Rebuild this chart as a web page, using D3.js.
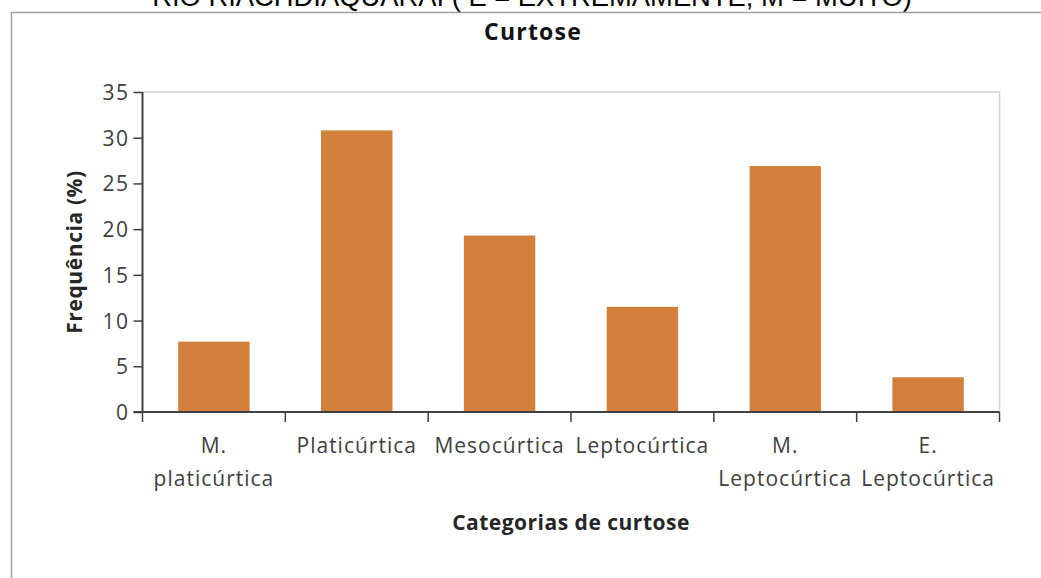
<!DOCTYPE html>
<html>
<head>
<meta charset="utf-8">
<script src="https://cdn.jsdelivr.net/npm/d3@7"></script>
<style>
  html, body { margin: 0; padding: 0; background: #fff; }
  svg { display: block; }
</style>
</head>
<body>
<svg id="chart" width="1041" height="578"></svg>
<script>
const categories = ["M. platicúrtica", "Platicúrtica", "Mesocúrtica", "Leptocúrtica", "M. Leptocúrtica", "E. Leptocúrtica"];
const categoryLines = [["M.", "platicúrtica"], ["Platicúrtica"], ["Mesocúrtica"], ["Leptocúrtica"], ["M.", "Leptocúrtica"], ["E.", "Leptocúrtica"]];
const frequencies = [7.7, 30.8, 19.3, 11.5, 26.9, 3.8];
const yTicks = [0, 5, 10, 15, 20, 25, 30, 35];
const chartTitle = "Curtose";
const xTitle = "Categorias de curtose";
const yTitle = "Frequência (%)";
const topCaption = "RIO RIACHDIAQUARAÍ ( E = EXTREMAMENTE; M = MUITO)";

const svg = d3.select("#chart");
const font = "'Open Sans', 'Noto Sans', sans-serif";
const margin = { left: 142.5, right: 999.5, top: 92, bottom: 412 };

// caption partly cut off at the top edge (as in the source image)
const cap = svg.append("text")
  .attr("x", 532).attr("y", 6)
  .attr("text-anchor", "middle")
  .style("font-family", "'Liberation Sans', Arial, sans-serif")
  .style("font-size", "22px")
  .attr("fill", "#000")
  .text(topCaption);
const capW = cap.node().getComputedTextLength();
cap.style("font-size", (22 * 760 / capW) + "px");

// outer frame
svg.append("rect")
  .attr("x", 11.5).attr("y", 12.5)
  .attr("width", 1100).attr("height", 700)
  .attr("fill", "none").attr("stroke", "#a0a0a0").attr("stroke-width", 1.5);

const x = d3.scaleBand().domain(categories).range([margin.left, margin.right]).paddingInner(0.5).paddingOuter(0.25);
const y = d3.scaleLinear().domain([0, 35]).range([margin.bottom, margin.top]);

// plot area light border (top & right)
svg.append("path")
  .attr("d", `M${margin.left},${y(35)}H${margin.right}V${y(0)}`)
  .attr("fill", "none").attr("stroke", "#d4d4d4").attr("stroke-width", 1.5);

// bars
svg.append("g").selectAll("rect").data(frequencies).join("rect")
  .attr("x", (d, i) => x(categories[i]))
  .attr("width", x.bandwidth())
  .attr("y", d => y(d))
  .attr("height", d => y(0) - y(d))
  .attr("fill", "#d3803c");

// y axis
const yAxis = svg.append("g")
  .attr("transform", `translate(${margin.left},0)`)
  .call(d3.axisLeft(y).tickValues(yTicks).tickSize(9).tickPadding(4));
yAxis.select(".domain").attr("stroke", "#404040").attr("stroke-width", 2).attr("d", `M0,${y(35)}V${y(0)}`);
yAxis.selectAll(".tick line").attr("stroke", "#404040").attr("stroke-width", 1.5);
yAxis.selectAll(".tick text")
  .style("font-family", font).style("font-size", "21px").style("letter-spacing", "1.5px")
  .attr("fill", "#404040").attr("dy", "0.36em");

// x axis
const xAxis = svg.append("g")
  .attr("transform", `translate(0,${margin.bottom})`)
  .call(d3.axisBottom(x).tickSize(0).tickFormat(""));
xAxis.select(".domain").attr("stroke", "#404040").attr("stroke-width", 2).attr("d", `M${margin.left - 9},0H${margin.right}`);
xAxis.selectAll(".tick").remove();
// boundary ticks between categories
const bounds = categories.map(c => x(c) - x.step() * x.paddingInner() / 2).concat([margin.right]);
xAxis.selectAll("line.bt").data(bounds).join("line")
  .attr("class", "bt")
  .attr("x1", d => d).attr("x2", d => d)
  .attr("y1", 0).attr("y2", 10)
  .attr("stroke", "#404040").attr("stroke-width", 1.5);

// category labels
const lab = svg.append("g").selectAll("text").data(categoryLines).join("text")
  .attr("text-anchor", "middle")
  .style("font-family", font).style("font-size", "21px").style("letter-spacing", "1px")
  .attr("fill", "#404040");
lab.each(function(lines, i) {
  const t = d3.select(this);
  const cx = x(categories[i]) + x.bandwidth() / 2;
  lines.forEach((ln, j) => {
    t.append("tspan").attr("x", cx).attr("y", 453 + j * 33).text(ln);
  });
});

// axis titles
svg.append("text")
  .attr("x", (margin.left + margin.right) / 2).attr("y", 530)
  .attr("text-anchor", "middle")
  .style("font-family", font).style("font-size", "21px").style("font-weight", "bold").style("letter-spacing", "0.5px")
  .attr("fill", "#262626")
  .text(xTitle);

svg.append("text")
  .attr("transform", `translate(82,${(margin.top + margin.bottom) / 2}) rotate(-90)`)
  .attr("text-anchor", "middle")
  .style("font-family", font).style("font-size", "21px").style("font-weight", "bold").style("letter-spacing", "0.6px")
  .attr("fill", "#262626")
  .text(yTitle);

// chart title
svg.append("text")
  .attr("x", 533).attr("y", 40)
  .attr("text-anchor", "middle")
  .style("font-family", font).style("font-size", "23px").style("font-weight", "bold").style("letter-spacing", "1.2px")
  .attr("fill", "#111")
  .text(chartTitle);
</script>
</body>
</html>
